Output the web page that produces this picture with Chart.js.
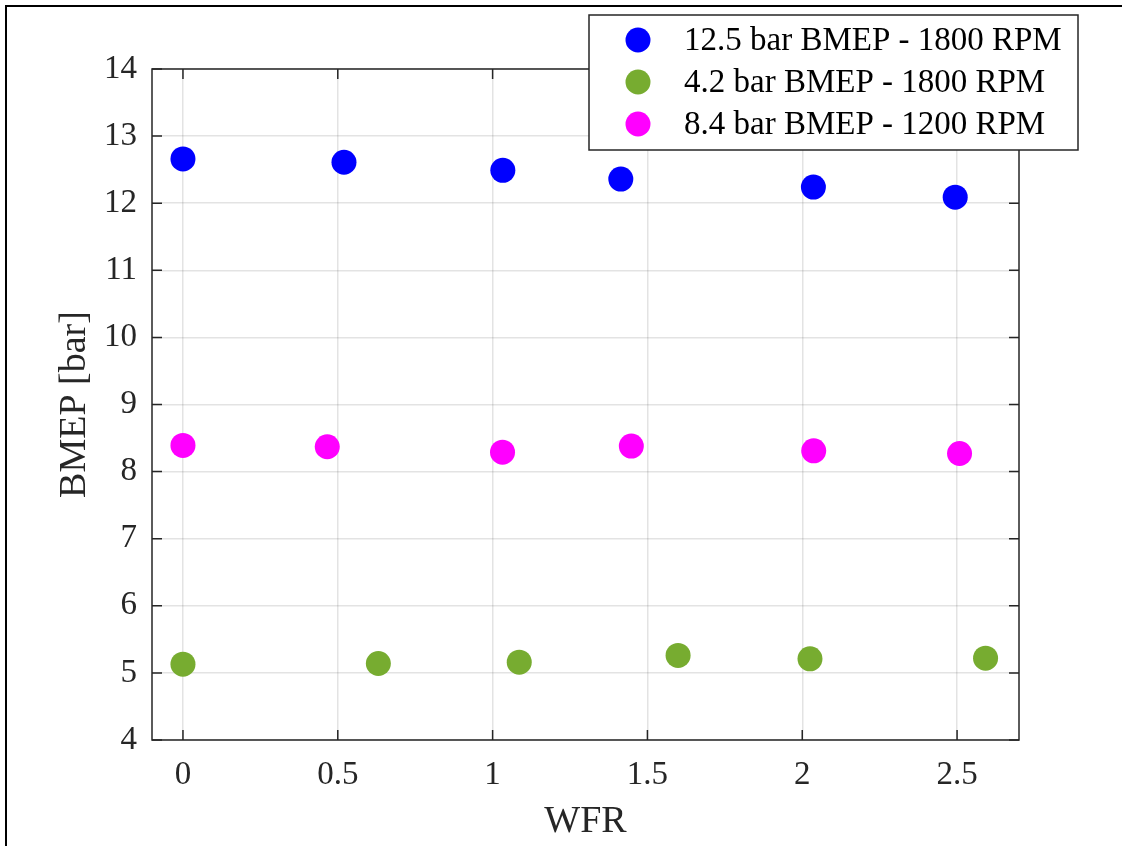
<!DOCTYPE html>
<html>
<head>
<meta charset="utf-8">
<script src="https://cdn.jsdelivr.net/npm/chart.js@4/dist/chart.umd.min.js"></script>
<style>
  html, body { margin: 0; padding: 0; background: #fff; }
  #wrap { width: 1122px; height: 846px; position: relative; }
</style>
</head>
<body>
<div id="wrap"><canvas id="bmepChart" width="1122" height="846"></canvas></div>
<script>
// ---------------- Data ----------------
const seriesLabels = ["12.5 bar BMEP - 1800 RPM", "4.2 bar BMEP - 1800 RPM", "8.4 bar BMEP - 1200 RPM"];
const seriesColors = ["#0000ff", "#77ac30", "#ff00ff"];

const wfrHigh = [0, 0.52, 1.033, 1.414, 2.036, 2.494];
const bmepHigh = [12.66, 12.61, 12.49, 12.36, 12.24, 12.09];

const wfrLow = [0, 0.631, 1.086, 1.599, 2.025, 2.592];
const bmepLow = [5.13, 5.14, 5.16, 5.26, 5.21, 5.22];

const wfrMid = [0, 0.466, 1.032, 1.448, 2.037, 2.508];
const bmepMid = [8.39, 8.37, 8.29, 8.38, 8.31, 8.27];

const xTicks = [0, 0.5, 1, 1.5, 2, 2.5];
const yTicks = [4, 5, 6, 7, 8, 9, 10, 11, 12, 13, 14];

const FONT = "'Liberation Serif', 'Times New Roman', serif";
const AXIS_COLOR = "#262626";

const toPoints = (xs, ys) => xs.map((x, i) => ({ x, y: ys[i] }));

// ---------------- Plugins ----------------
// MATLAB-style box with inward ticks on all four sides
const boxPlugin = {
  id: "boxPlugin",
  afterDatasetsDraw(chart) {
    const { ctx, chartArea: a, scales } = chart;
    const len = 10;
    ctx.save();
    ctx.strokeStyle = AXIS_COLOR;
    ctx.lineWidth = 1.5;
    ctx.strokeRect(a.left, a.top, a.right - a.left, a.bottom - a.top);
    ctx.beginPath();
    scales.x.ticks.forEach(t => {
      const px = scales.x.getPixelForValue(t.value);
      ctx.moveTo(px, a.bottom); ctx.lineTo(px, a.bottom - len);
      ctx.moveTo(px, a.top); ctx.lineTo(px, a.top + len);
    });
    scales.y.ticks.forEach(t => {
      const py = scales.y.getPixelForValue(t.value);
      ctx.moveTo(a.left, py); ctx.lineTo(a.left + len, py);
      ctx.moveTo(a.right, py); ctx.lineTo(a.right - len, py);
    });
    ctx.stroke();
    ctx.restore();
  },
  afterDraw(chart) {
    const { ctx } = chart;
    ctx.save();
    // outer figure frame
    ctx.strokeStyle = "#000";
    ctx.lineWidth = 2;
    ctx.beginPath();
    ctx.moveTo(6, 846); ctx.lineTo(6, 6); ctx.lineTo(1122, 6);
    ctx.stroke();

    // legend
    const bx = 589, by = 15, bw = 489, bh = 135;
    ctx.fillStyle = "#fff";
    ctx.fillRect(bx, by, bw, bh);
    ctx.strokeStyle = AXIS_COLOR;
    ctx.lineWidth = 1.5;
    ctx.strokeRect(bx, by, bw, bh);
    ctx.font = "33px " + FONT;
    ctx.textBaseline = "middle";
    chart.data.datasets.forEach((ds, i) => {
      const cy = 40 + i * 42;
      ctx.fillStyle = ds.backgroundColor;
      ctx.beginPath();
      ctx.arc(638, cy, 12.5, 0, Math.PI * 2);
      ctx.fill();
      ctx.fillStyle = "#000";
      ctx.fillText(ds.label, 684, cy + 1);
    });
    ctx.restore();
  }
};

// ---------------- Chart ----------------
new Chart(document.getElementById("bmepChart"), {
  type: "scatter",
  data: {
    datasets: [
      { label: seriesLabels[0], data: toPoints(wfrHigh, bmepHigh) },
      { label: seriesLabels[1], data: toPoints(wfrLow, bmepLow) },
      { label: seriesLabels[2], data: toPoints(wfrMid, bmepMid) }
    ].map((d, i) => ({
      ...d,
      backgroundColor: seriesColors[i],
      borderWidth: 0,
      pointRadius: 12.5,
      pointHoverRadius: 12.5
    }))
  },
  options: {
    responsive: false,
    animation: false,
    layout: { padding: { left: 0, top: 69, right: 103, bottom: 0 } },
    plugins: { legend: { display: false }, tooltip: { enabled: false } },
    scales: {
      x: {
        type: "linear",
        min: -0.1,
        max: 2.7,
        afterBuildTicks: s => { s.ticks = xTicks.map(v => ({ value: v })); },
        afterFit: s => { s.height = 106; },
        grid: { color: "rgba(38,38,38,0.13)", lineWidth: 1.5, drawTicks: false },
        border: { display: false },
        ticks: {
          padding: 16,
          color: AXIS_COLOR,
          font: { family: FONT, size: 33 },
          callback: v => String(v)
        },
        title: {
          display: true,
          text: "WFR",
          color: AXIS_COLOR,
          font: { family: FONT, size: 38 },
          padding: { top: 0, bottom: 1 }
        }
      },
      y: {
        type: "linear",
        min: 4,
        max: 14,
        afterBuildTicks: s => { s.ticks = yTicks.map(v => ({ value: v })); },
        afterFit: s => { s.width = 152; },
        grid: { color: "rgba(38,38,38,0.13)", lineWidth: 1.5, drawTicks: false },
        border: { display: false },
        ticks: {
          padding: 15,
          color: AXIS_COLOR,
          font: { family: FONT, size: 33 },
          callback: v => String(v)
        },
        title: {
          display: true,
          text: "BMEP [bar]",
          color: AXIS_COLOR,
          font: { family: FONT, size: 38 },
          padding: { top: 52, bottom: 0 }
        }
      }
    }
  },
  plugins: [boxPlugin]
});
</script>
</body>
</html>
